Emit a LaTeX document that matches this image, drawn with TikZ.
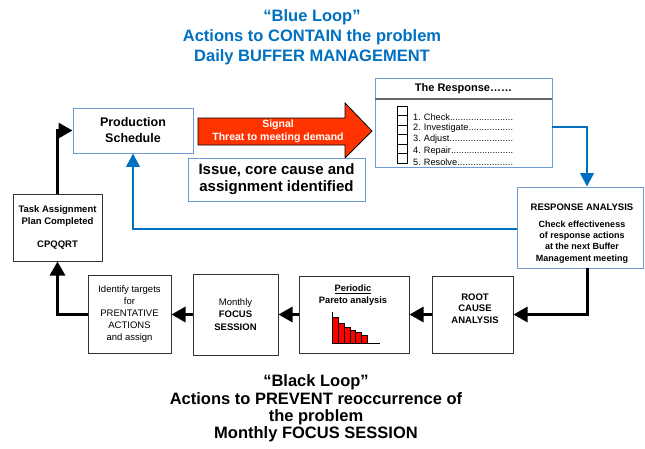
\documentclass[tikz,border=0pt]{standalone}
\usepackage{fontspec}
\setmainfont{Liberation Sans}
\usepackage{tikz}
\usetikzlibrary{arrows.meta}
\tikzset{>=latex}
\definecolor{loopblue}{HTML}{0070C0}
\definecolor{edgeblue}{HTML}{6F9BD4}
\definecolor{signalred}{HTML}{FF3300}
\newcommand{\leaderdots}{\xleaders\hbox{.}\hskip 0pt plus 1fill\kern0pt}
\frenchspacing
\tikzset{
    bluebox/.style={draw=edgeblue, line width=0.9pt, fill=white, inner sep=0pt, align=center},
    blackbox/.style={draw=black!80, line width=1pt, fill=white, inner sep=0pt, align=center},
    blueline/.style={loopblue, line width=2.5pt, -{Triangle[length=13.5pt,width=13.5pt]}},
    blackline/.style={black, line width=3pt, -{Triangle[length=14pt,width=15pt]}},
    item/.style={anchor=west, inner sep=0pt, text width=100pt, align=left, font=\fontsize{9.2}{10}\selectfont},
}

\begin{document}
\begin{tikzpicture}[x=1pt, y=-1pt]
    \fill[white] (0,0) rectangle (645,448);
    \useasboundingbox (0,0) rectangle (645,448);

    % titles
    \node[loopblue, align=center, font=\fontsize{16.5}{20}\selectfont\bfseries] (bluetitle) at (312,37)
        {“Blue Loop”\\Actions to CONTAIN the problem\\Daily BUFFER MANAGEMENT};
    \node[align=center, font=\fontsize{16.5}{17.3}\selectfont\bfseries] (blacktitle) at (316,408.5)
        {“Black Loop”\\Actions to PREVENT reoccurrence of\\the problem\\Monthly FOCUS SESSION};

    % blue loop
    \node[bluebox, minimum width=120, minimum height=45, font=\fontsize{12.5}{16}\selectfont\bfseries] (prod) at (133,130.5) {Production\\Schedule};

    \draw[fill=signalred, line width=0.8pt] (198,118) -- (345,118) -- (345,103) -- (372,131) -- (345,158) -- (345,145) -- (198,145) -- cycle;
    \node[white, align=center, font=\fontsize{10.5}{13}\selectfont\bfseries] (signal) at (278,131.5) {Signal\\Threat to meeting demand};

    \node[bluebox, minimum width=177, minimum height=43, font=\fontsize{15}{17}\selectfont\bfseries] (issue) at (276.5,179.5) {Issue, core cause and\\assignment identified};

    \node[bluebox, minimum width=177, minimum height=89] (resp) at (463.5,122.5) {};
    \draw[black!60, line width=1.2pt] (375,99) -- (552,99);
    \node[font=\fontsize{11}{13}\selectfont\bfseries] (resptitle) at (463.5,89) {The Response……};
    \foreach \i in {0,...,5}
    {
        \draw[line width=0.8pt] (397,{106+9.5*\i}) rectangle (407,{115.5+9.5*\i});
    }
    \foreach \n/\lbl in {1/Check, 2/Investigate, 3/Adjust, 4/Repair, 5/Resolve}
    {
        \node[item] (item\n) at (413,{105.5+11.3*\n}) {\n. \lbl\leaderdots};
    }

    \node[bluebox, minimum width=126, minimum height=81] (ranal) at (580,227.5) {};
    \node[align=center, font=\fontsize{9}{11.3}\selectfont\bfseries] (ranaltext) at (582,233.5)
        {{\fontsize{9.5}{11}\selectfont RESPONSE ANALYSIS}\\[5.5pt]Check effectiveness\\of response actions\\at the next Buffer\\Management meeting};

    % black loop
    \node[blackbox, minimum width=81, minimum height=77] (root) at (472.5,314.5) {};
    \node[align=center, font=\fontsize{9.5}{11.7}\selectfont\bfseries] (roottext) at (475,308.5) {ROOT\\CAUSE\\ANALYSIS};

    \node[blackbox, minimum width=110, minimum height=77] (pareto) at (354,314.5) {};
    \node[align=center, font=\fontsize{9.3}{12}\selectfont\bfseries] (paretotext) at (353,295) {\underline{Periodic}\\Pareto analysis};
    \foreach \h [count=\k from 0] in {317,323,327,330,332,335}
    {
        \draw[fill=red, line width=0.6pt] ({332.5+5.8*\k},343) rectangle ({338.3+5.8*\k},\h);
    }
    \draw[line width=0.8pt] (332,312) -- (332,343) -- (380,343);

    \node[blackbox, minimum width=85, minimum height=81, font=\fontsize{9.5}{12.5}\selectfont] (monthly) at (235.5,314.5)
        {Monthly\\\textbf{FOCUS}\\\textbf{SESSION}};

    \node[blackbox, minimum width=83, minimum height=78, font=\fontsize{9.5}{12}\selectfont] (ident) at (129.5,314)
        {Identify targets\\for\\PRENTATIVE\\ACTIONS\\and assign};

    \node[blackbox, minimum width=89, minimum height=67, font=\fontsize{9.5}{12}\selectfont\bfseries] (task) at (57.5,227.5)
        {Task Assignment\\Plan Completed\\[11pt]CPQQRT};

    % connectors
    \draw[blueline] ([yshift=-4.5pt]resp.east) -| ([xshift=7pt]ranal.north);
    \draw[blueline] ([yshift=-1.5pt]ranal.west) -| (prod.south);
    \draw[blackline] ([xshift=7pt]ranal.south) |- (root.east);
    \draw[blackline] (root.west) -- (pareto.east);
    \draw[blackline] (pareto.west) -- (monthly.east);
    \draw[blackline] (monthly.west) -- (monthly.west -| ident.east);
    \draw[blackline] (ident.west) -| (task.south);
    \draw[blackline] (task.north) |- (prod.west);
\end{tikzpicture}
\end{document}
